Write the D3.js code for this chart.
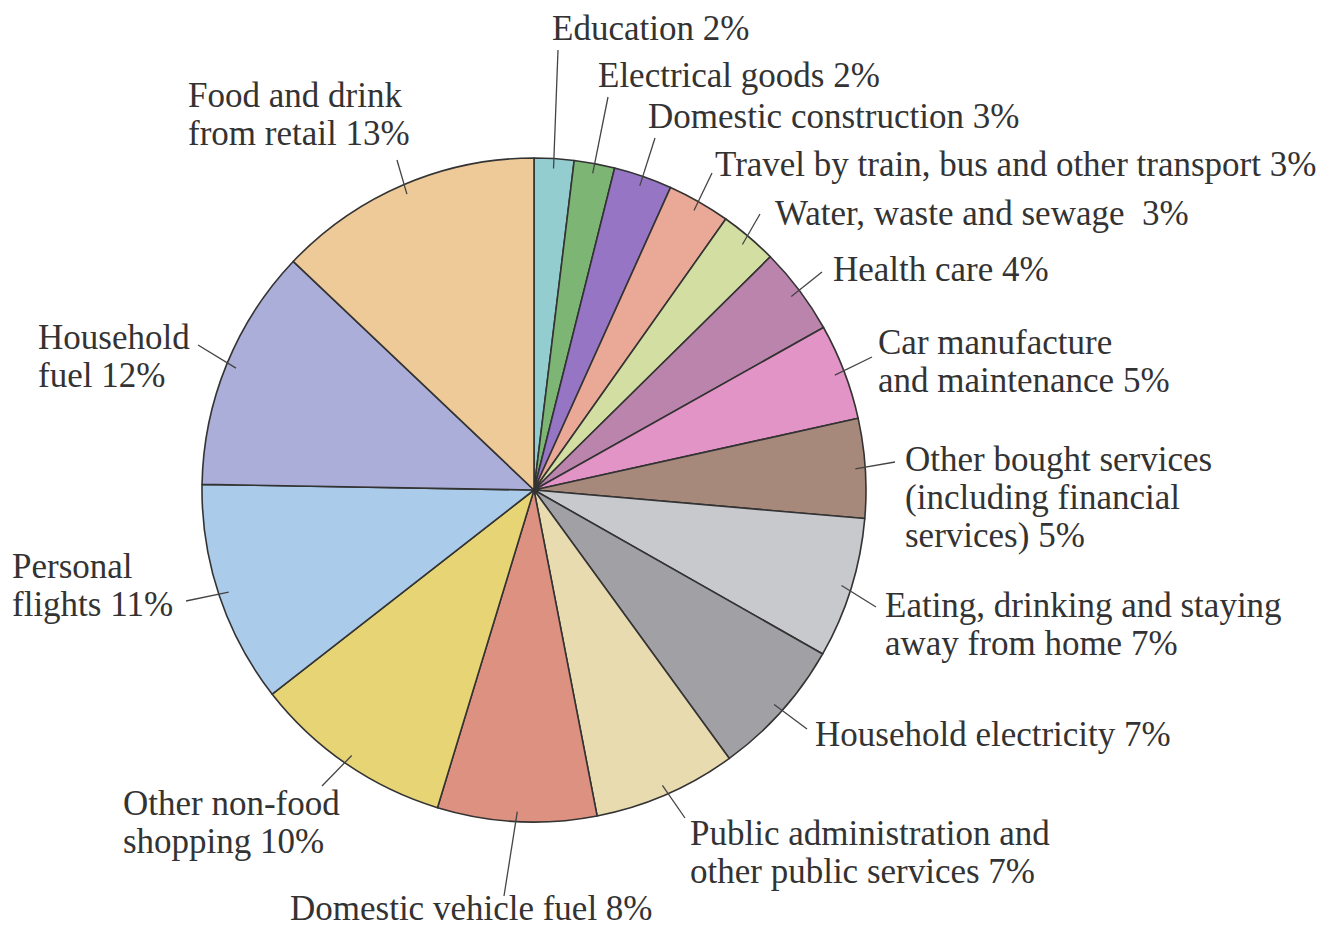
<!DOCTYPE html>
<html lang="en">
<head>
    <meta charset="UTF-8">
    <title>Household carbon footprint</title>
    <script src="https://d3js.org/d3.v7.min.js"></script>
    <style>
        body { margin: 0; background: #fff; }
        text { font-family: "Liberation Serif", "DejaVu Serif", serif; fill: #333; }
    </style>
</head>
<body>
<script>

    // slices, clockwise from 12 o'clock
    var categories = [
        "Education", "Electrical goods", "Domestic construction",
        "Travel by train, bus and other transport", "Water, waste and sewage",
        "Health care", "Car manufacture and maintenance",
        "Other bought services (including financial services)",
        "Eating, drinking and staying away from home", "Household electricity",
        "Public administration and other public services", "Domestic vehicle fuel",
        "Other non-food shopping", "Personal flights", "Household fuel",
        "Food and drink from retail"
    ]
    // share of the circle as drawn (percent)
    var shares = [1.93, 1.97, 2.84, 3.05, 2.8, 4.25, 4.67, 4.83, 6.84, 6.76, 6.96, 7.73, 9.75, 10.8, 11.8, 12.9]
    // label text, one entry per line
    var labels = [
        ["Education 2%"],
        ["Electrical goods 2%"],
        ["Domestic construction 3%"],
        ["Travel by train, bus and other transport 3%"],
        ["Water, waste and sewage  3%"],
        ["Health care 4%"],
        ["Car manufacture", "and maintenance 5%"],
        ["Other bought services", "(including financial", "services) 5%"],
        ["Eating, drinking and staying", "away from home 7%"],
        ["Household electricity 7%"],
        ["Public administration and", "other public services 7%"],
        ["Domestic vehicle fuel 8%"],
        ["Other non-food", "shopping 10%"],
        ["Personal", "flights 11%"],
        ["Household", "fuel 12%"],
        ["Food and drink", "from retail 13%"]
    ]
    var colors = [
        "#94cdd0", "#7db574", "#9575c4", "#eaa996", "#d3dea2", "#bb84ac",
        "#e394c6", "#a6897b", "#c8c9cd", "#a1a1a5", "#e9dbb0", "#dd9180",
        "#e7d575", "#aacbea", "#aaaed8", "#edca98"
    ]

    var width = 1337
    var height = 929
    var p = {
        cx: 534,
        cy: 490,
        radius: 332,
        inset: 10,
        font: 35,
        line: 38
    }

    // where each label sits (x, first baseline) and where its leader starts
    var label_pos = [
        [552, 40, 558, 50],
        [598, 87, 608, 97],
        [648, 128, 655, 138],
        [715, 176, 712, 173],
        [775, 225, 760, 214],
        [833, 281, 822, 272],
        [878, 354, 872, 357],
        [905, 471, 895, 462],
        [885, 617, 876, 607],
        [815, 746, 807, 729],
        [690, 845, 685, 818],
        [290, 920, 504, 896],
        [123, 815, 322, 786],
        [12, 578, 186, 601],
        [38, 349, 198, 345],
        [188, 107, 397, 160]
    ]

    var svg = d3.select("body").append("svg")
        .attr("width", width)
        .attr("height", height)

    var pie = d3.pie()
        .sort(null)
        .value(function (d) { return d })

    var arc = d3.arc()
        .innerRadius(0)
        .outerRadius(p.radius)

    var inner = d3.arc()
        .innerRadius(p.radius - p.inset)
        .outerRadius(p.radius - p.inset)

    var arcs = pie(shares)

    var g = svg.append("g")
        .attr("transform", "translate(" + p.cx + "," + p.cy + ")")

    g.selectAll("path.slice")
        .data(arcs)
        .enter().append("path")
        .attr("class", "slice")
        .attr("d", arc)
        .attr("fill", function (d, i) { return colors[i] })
        .attr("stroke", "#333")
        .attr("stroke-width", 1.6)
        .attr("stroke-linejoin", "round")

    // leader lines
    g.selectAll("line.leader")
        .data(arcs)
        .enter().append("line")
        .attr("class", "leader")
        .attr("x1", function (d, i) { return label_pos[i][2] - p.cx })
        .attr("y1", function (d, i) { return label_pos[i][3] - p.cy })
        .attr("x2", function (d) { return inner.centroid(d)[0] })
        .attr("y2", function (d) { return inner.centroid(d)[1] })
        .attr("stroke", "#444")
        .attr("stroke-width", 1.3)

    for (var i = 0; i < labels.length; i++) {
        var t = svg.append("text")
            .attr("x", label_pos[i][0])
            .attr("y", label_pos[i][1])
            .attr("font-size", p.font)
        for (var j = 0; j < labels[i].length; j++) {
            t.append("tspan")
                .attr("x", label_pos[i][0])
                .attr("dy", j == 0 ? 0 : p.line)
                .attr("xml:space", "preserve")
                .text(labels[i][j])
        }
    }

</script>
</body>
</html>
